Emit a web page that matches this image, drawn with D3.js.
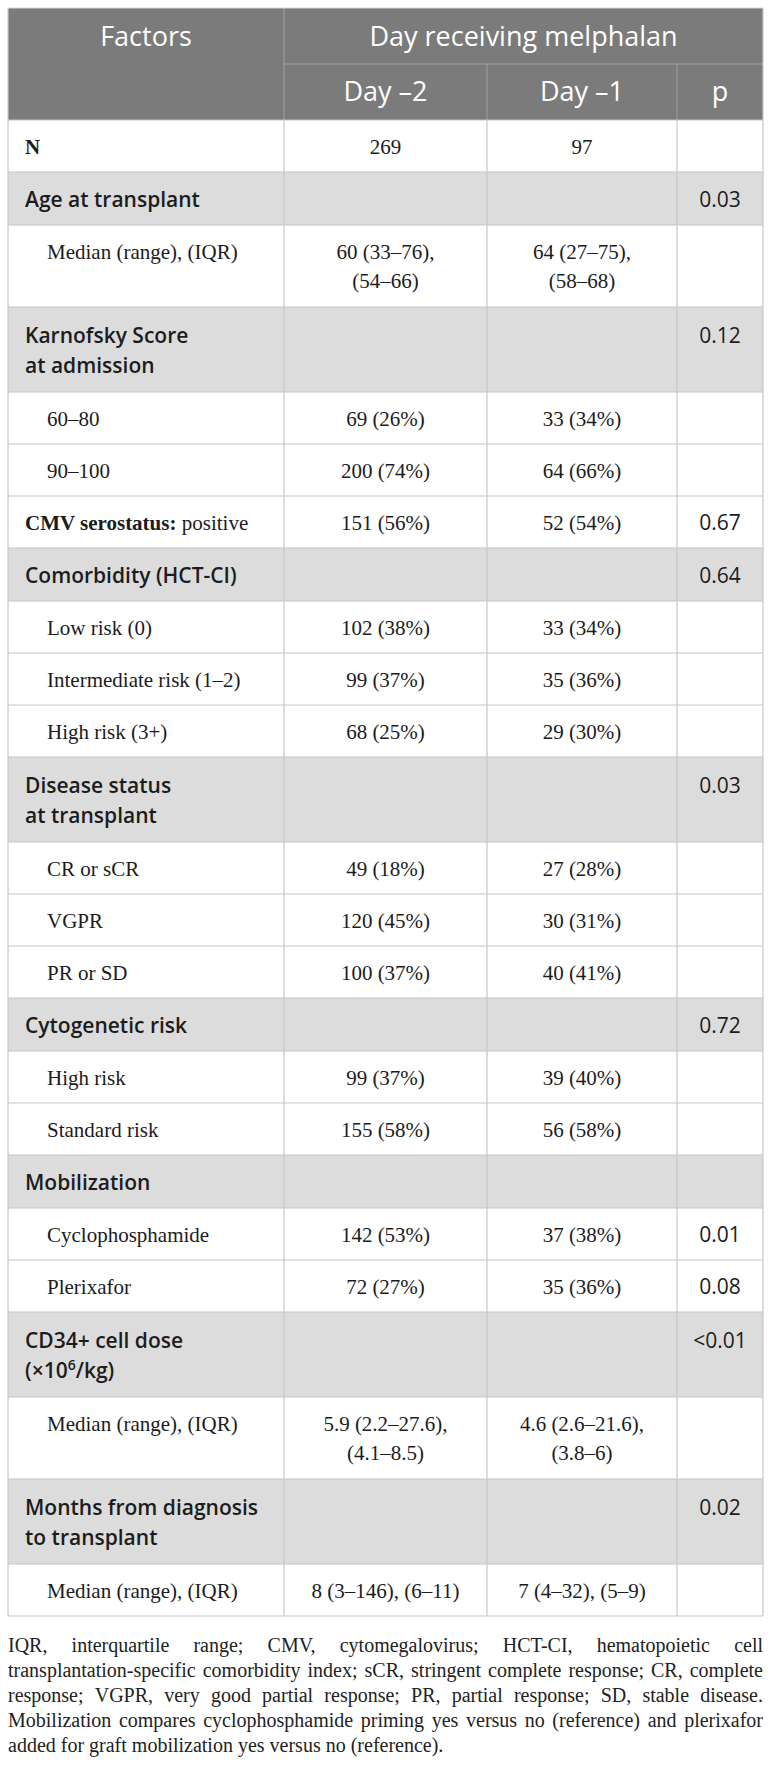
<!DOCTYPE html>
<html><head><meta charset="utf-8">
<script src="https://cdn.jsdelivr.net/npm/d3@7/dist/d3.min.js"></script>
<style>body{margin:0;background:#fff}svg{display:block}</style>
</head><body><svg id="c"></svg>
<script>
// ---------------- data ----------------
const headerTop = ["Factors", "Day receiving melphalan"];
const columnLabels = ["Day –2", "Day –1", "p"];
const factors = [
  "N|", "Age at transplant", "Median (range), (IQR)",
  "Karnofsky Score\nat admission", "60–80", "90–100",
  "CMV serostatus:| positive", "Comorbidity (HCT-CI)",
  "Low risk (0)", "Intermediate risk (1–2)", "High risk (3+)",
  "Disease status\nat transplant", "CR or sCR", "VGPR", "PR or SD",
  "Cytogenetic risk", "High risk", "Standard risk",
  "Mobilization", "Cyclophosphamide", "Plerixafor",
  "CD34+ cell dose\n(×10^6/kg)", "Median (range), (IQR)",
  "Months from diagnosis\nto transplant", "Median (range), (IQR)"
];
const rowType = [
  "plain", "group", "sub", "group", "sub", "sub", "plain", "group",
  "sub", "sub", "sub", "group", "sub", "sub", "sub", "group", "sub", "sub",
  "group", "sub", "sub", "group", "sub", "group", "sub"
];
const day2 = [
  "269", "", "60 (33–76),\n(54–66)", "", "69 (26%)", "200 (74%)", "151 (56%)", "",
  "102 (38%)", "99 (37%)", "68 (25%)", "", "49 (18%)", "120 (45%)", "100 (37%)",
  "", "99 (37%)", "155 (58%)", "", "142 (53%)", "72 (27%)", "",
  "5.9 (2.2–27.6),\n(4.1–8.5)", "", "8 (3–146), (6–11)"
];
const day1 = [
  "97", "", "64 (27–75),\n(58–68)", "", "33 (34%)", "64 (66%)", "52 (54%)", "",
  "33 (34%)", "35 (36%)", "29 (30%)", "", "27 (28%)", "30 (31%)", "40 (41%)",
  "", "39 (40%)", "56 (58%)", "", "37 (38%)", "35 (36%)", "",
  "4.6 (2.6–21.6),\n(3.8–6)", "", "7 (4–32), (5–9)"
];
const pValues = [
  "", "0.03", "", "0.12", "", "", "0.67", "0.64", "", "", "", "0.03", "", "", "",
  "0.72", "", "", "", "0.01", "0.08", "<0.01", "", "0.02", ""
];
const captionLines = [
  "IQR, interquartile range; CMV, cytomegalovirus; HCT-CI, hematopoietic cell",
  "transplantation-specific comorbidity index; sCR, stringent complete response; CR, complete",
  "response; VGPR, very good partial response; PR, partial response; SD, stable disease.",
  "Mobilization compares cyclophosphamide priming yes versus no (reference) and plerixafor",
  "added for graft mobilization yes versus no (reference)."
];

// ---------------- layout ----------------
const W = 772, H = 1765;
const SANS = "'Open Sans', Lato, sans-serif";
const SERIF = "'Liberation Serif', 'DejaVu Serif', serif";
const TXT = "#1c1c1c";
const svg = d3.select("#c").attr("width", W).attr("height", H);
svg.append("rect").attr("width", W).attr("height", H).attr("fill", "#fff");

const xEdges = [8, 284, 487, 677, 763];
const headerY = [8, 64, 120];
const nLines = i => Math.max(...[factors[i], day2[i], day1[i]].map(s => s.split("\n").length));
const heights = factors.map((f, i) => {
  const n = nLines(i), g = rowType[i] === "group";
  return n === 1 ? (g ? 53 : 52) : (g ? 85 : 82);
});
const cum = [0, ...d3.cumsum(heights)];
const rowIdx = d3.range(factors.length);
const yTop = d3.scaleOrdinal().domain(rowIdx).range(cum.slice(0, -1).map(v => v + headerY[2]));
const tableBottom = headerY[2] + cum[cum.length - 1];
const colCenter = d3.scaleOrdinal().domain(["day2", "day1", "p"])
  .range([(xEdges[1] + xEdges[2]) / 2, (xEdges[2] + xEdges[3]) / 2, (xEdges[3] + xEdges[4]) / 2]);

function baseline(i, line) {
  const n = nLines(i), g = rowType[i] === "group";
  if (n === 1) return yTop(i) + heights[i] / 2 + 8;
  return yTop(i) + (g ? 36 : 34) + line * (g ? 30 : 29);
}

// ---------------- header ----------------
svg.append("rect").attr("x", xEdges[0]).attr("y", headerY[0])
  .attr("width", xEdges[4] - xEdges[0]).attr("height", headerY[2] - headerY[0])
  .attr("fill", "#7b7b7b");
const hl = "#a0a0a0";
svg.append("line").attr("x1", xEdges[1]).attr("x2", xEdges[4]).attr("y1", headerY[1]).attr("y2", headerY[1]).attr("stroke", hl);
svg.append("line").attr("x1", xEdges[1]).attr("x2", xEdges[1]).attr("y1", headerY[0]).attr("y2", headerY[2]).attr("stroke", hl);
[2, 3].forEach(k => svg.append("line").attr("x1", xEdges[k]).attr("x2", xEdges[k]).attr("y1", headerY[1]).attr("y2", headerY[2]).attr("stroke", hl));

const hdr = svg.append("g").attr("font-family", SANS).attr("font-size", 27).attr("fill", "#fff").attr("text-anchor", "middle");
hdr.append("text").attr("x", (xEdges[0] + xEdges[1]) / 2).attr("y", 46).text(headerTop[0]);
hdr.append("text").attr("x", (xEdges[1] + xEdges[4]) / 2).attr("y", 46).text(headerTop[1]);
hdr.selectAll("text.col").data(columnLabels).join("text").attr("class", "col")
  .attr("x", (d, k) => colCenter(["day2", "day1", "p"][k])).attr("y", 101).text(d => d);

// ---------------- rows ----------------
const rows = svg.append("g").selectAll("g").data(rowIdx).join("g");
rows.append("rect").attr("x", xEdges[0]).attr("y", i => yTop(i))
  .attr("width", xEdges[4] - xEdges[0]).attr("height", i => heights[i])
  .attr("fill", i => rowType[i] === "group" ? "#dcdcdc" : "#fff");

const gridC = "#c6c6c6";
const grid = svg.append("g").attr("stroke", gridC).attr("stroke-width", 1.2);
grid.selectAll("line.h").data([...rowIdx, factors.length]).join("line").attr("class", "h")
  .attr("x1", xEdges[0]).attr("x2", xEdges[4])
  .attr("y1", i => i < factors.length ? yTop(i) : tableBottom)
  .attr("y2", i => i < factors.length ? yTop(i) : tableBottom);
grid.selectAll("line.v").data(xEdges).join("line").attr("class", "v")
  .attr("x1", d => d).attr("x2", d => d).attr("y1", headerY[2]).attr("y2", tableBottom);
grid.append("line").attr("x1", xEdges[0]).attr("x2", xEdges[0]).attr("y1", headerY[0]).attr("y2", headerY[2]);
grid.append("line").attr("x1", xEdges[4]).attr("x2", xEdges[4]).attr("y1", headerY[0]).attr("y2", headerY[2]);
grid.append("line").attr("x1", xEdges[0]).attr("x2", xEdges[4]).attr("y1", headerY[0]).attr("y2", headerY[0]).attr("stroke", "#d8d8d8");

// labels
rows.each(function (i) {
  const g = d3.select(this);
  const type = rowType[i];
  const lines = factors[i].split("\n");
  lines.forEach((ln, k) => {
    const t = g.append("text").attr("y", baseline(i, k)).attr("fill", TXT).attr("font-size", 21);
    if (type === "group") {
      t.attr("x", 25).attr("font-family", SANS).attr("font-weight", 600);
      const parts = ln.split("^");
      t.append("tspan").text(parts[0]);
      if (parts.length > 1) {
        t.append("tspan").attr("font-size", 14).attr("dy", -8).text(parts[1][0]);
        t.append("tspan").attr("dy", 8).text(parts[1].slice(1));
      }
    } else if (type === "plain") {
      const [b, r] = ln.split("|");
      t.attr("x", 25).attr("font-family", SERIF);
      t.append("tspan").attr("font-weight", 700).text(b);
      if (r) t.append("tspan").text(r);
    } else {
      t.attr("x", 47).attr("font-family", SERIF).text(ln);
    }
  });
  [["day2", day2[i]], ["day1", day1[i]]].forEach(([c, v]) => {
    v.split("\n").forEach((ln, k) => {
      if (!ln) return;
      g.append("text").attr("x", colCenter(c)).attr("y", baseline(i, k))
        .attr("text-anchor", "middle").attr("font-family", SERIF).attr("font-size", 21)
        .attr("fill", TXT).text(ln);
    });
  });
  if (pValues[i]) {
    g.append("text").attr("x", colCenter("p")).attr("y", baseline(i, 0))
      .attr("text-anchor", "middle").attr("font-family", SANS).attr("font-size", 21)
      .attr("fill", TXT).text(pValues[i]);
  }
});

// ---------------- caption (justified) ----------------
const capX0 = xEdges[0], capX1 = xEdges[4], capW = capX1 - capX0;
const capFS = 20;
const measure = s => {
  const t = svg.append("text").attr("font-family", SERIF).attr("font-size", capFS).text(s);
  const w = t.node().getComputedTextLength(); t.remove(); return w;
};
const cap = svg.append("g").attr("font-family", SERIF).attr("font-size", capFS).attr("fill", "#222");
captionLines.forEach((line, i) => {
  const yb = 1652 + i * 25;
  const t = cap.append("text").attr("y", yb);
  if (i === captionLines.length - 1) { t.attr("x", capX0).text(line); return; }
  const words = line.split(" ");
  const ws = words.map(measure);
  const gap = (capW - d3.sum(ws)) / (words.length - 1);
  if (gap < measure("a a") - measure("aa") * 0.9 || gap < 3) {
    t.attr("x", capX0).attr("textLength", capW).attr("lengthAdjust", "spacingAndGlyphs").text(line);
    return;
  }
  let x = capX0;
  words.forEach((w, k) => {
    t.append("tspan").attr("x", x).text(w);
    x += ws[k] + gap;
  });
});
</script>
</body></html>
